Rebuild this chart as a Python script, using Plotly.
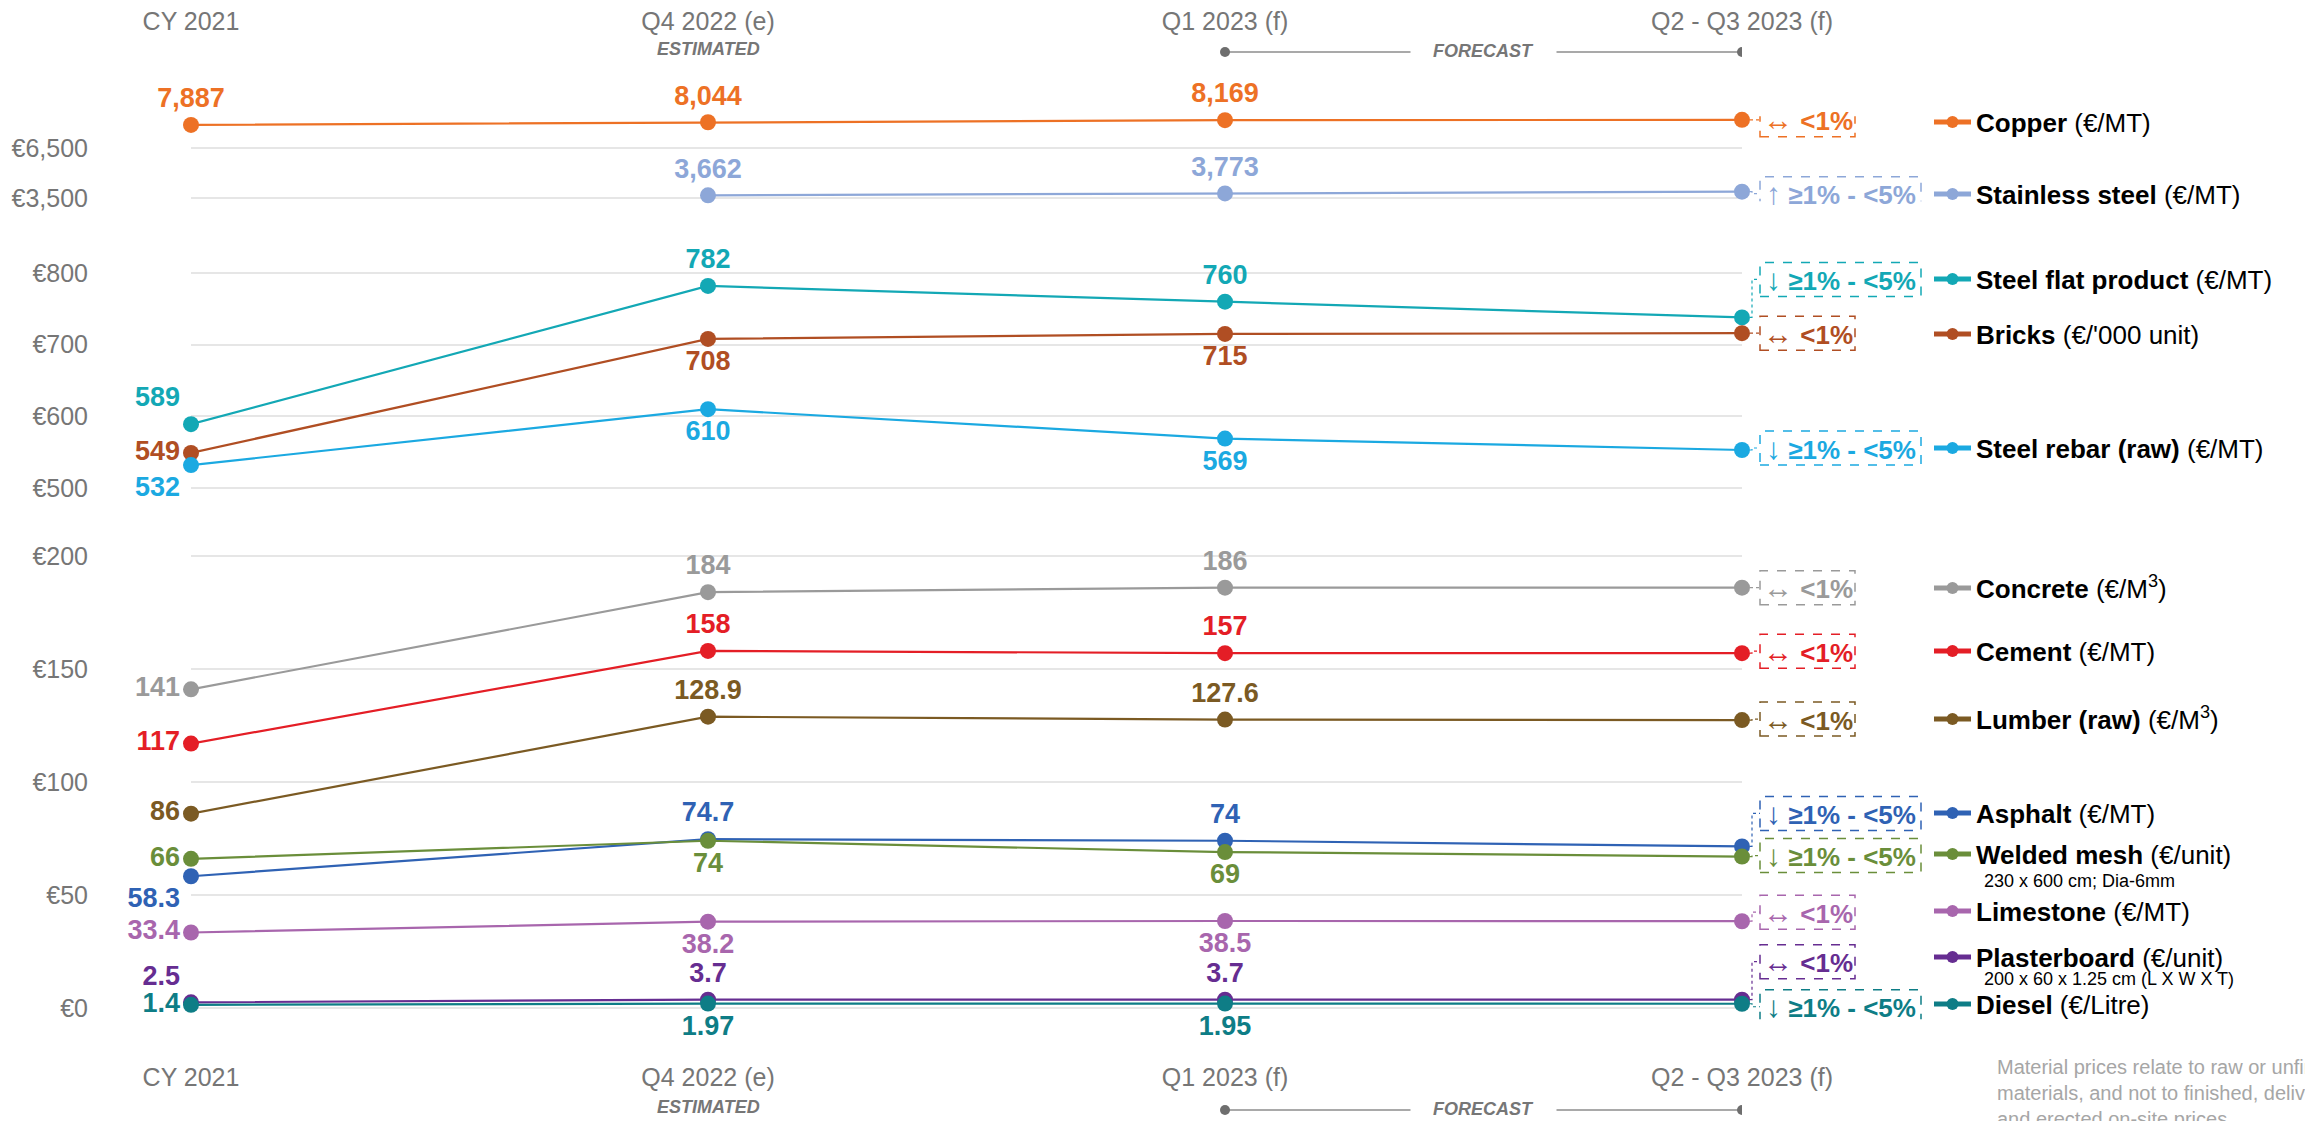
import plotly.graph_objects as go

# ---------------- data ----------------
categories = ["CY 2021", "Q4 2022 (e)", "Q1 2023 (f)", "Q2 - Q3 2023 (f)"]

copper = [7887, 8044, 8169, 8190]
stainless_steel = [None, 3662, 3773, 3880]
steel_flat = [589, 782, 760, 738]
bricks = [549, 708, 715, 716]
steel_rebar = [532, 610, 569, 553]
concrete = [141, 184, 186, 186]
cement = [117, 158, 157, 157]
lumber = [86, 128.9, 127.6, 127.4]
asphalt = [58.3, 74.7, 74, 71.5]
welded_mesh = [66, 74, 69, 67]
limestone = [33.4, 38.2, 38.5, 38.4]
plasterboard = [2.5, 3.7, 3.7, 3.7]
diesel = [1.4, 1.97, 1.95, 1.88]

material_names = ["Copper", "Stainless steel", "Steel flat product", "Bricks", "Steel rebar (raw)",
                  "Concrete", "Cement", "Lumber (raw)", "Asphalt", "Welded mesh", "Limestone",
                  "Plasterboard", "Diesel"]
material_units = ["(€/MT)", "(€/MT)", "(€/MT)", "(€/'000 unit)", "(€/MT)", "(€/M<sup>3</sup>)",
                  "(€/MT)", "(€/M<sup>3</sup>)", "(€/MT)", "(€/unit)", "(€/MT)", "(€/unit)", "(€/Litre)"]
material_notes = ["", "", "", "", "", "", "", "", "", "230 x 600 cm; Dia-6mm", "",
                  "200 x 60 x 1.25 cm (L X W X T)", ""]
trends = ["↔ <1%", "↑ ≥1% - <5%", "↓ ≥1% - <5%", "↔ <1%", "↓ ≥1% - <5%", "↔ <1%", "↔ <1%",
          "↔ <1%", "↓ ≥1% - <5%", "↓ ≥1% - <5%", "↔ <1%", "↔ <1%", "↓ ≥1% - <5%"]

y_ticks_bottom = [0, 50, 100, 150, 200]
y_ticks_middle = [500, 600, 700, 800]
y_ticks_top = [3500, 6500]

footnote = ("Material prices relate to raw or unfinished<br>materials, and not to finished, delivered"
            "<br>and erected on-site prices")

# ---------------- geometry / style ----------------
W, H = 2305, 1121
FONT = "Liberation Sans, Arial, sans-serif"
GREY = "#767676"


def fx(p):
    return p / W


def fy(p):
    return 1 - p / H


X_LEFT, X_RIGHT = 191, 1742


def domain_for(v_a, p_a, v_b, p_b, lo, hi):
    s = (p_a - p_b) / (v_b - v_a)
    p_lo = p_a + (v_a - lo) * s
    p_hi = p_a - (hi - v_a) * s
    return [fy(p_lo), fy(p_hi)]


dom_bottom = domain_for(0, 1008, 200, 556, -5, 205)
dom_middle = domain_for(500, 488, 800, 273, 480, 820)
dom_top = domain_for(3500, 198, 6500, 148, 3300, 8400)

TC, BC, ML, TL, BL = "top center", "bottom center", "middle left", "top left", "bottom left"

styles = [
    # values, color, yaxis, xaxis, text positions, box dy(px), legend y(px), note y(px)
    (copper, "#ED7125", "y3", "x2", [TC, TC, TC, TC], 0, 122, None),
    (stainless_steel, "#8DA7D8", "y3", "x2", [TC, TC, TC, TC], -2, 194, None),
    (steel_flat, "#13A8B5", "y2", "x", [TL, TC, TC, TC], 38, 279, None),
    (bricks, "#B04E23", "y2", "x", [ML, BC, BC, BC], 0, 334, None),
    (steel_rebar, "#1BA9E1", "y2", "x", [BL, BC, BC, BC], 2, 448, None),
    (concrete, "#9A9A9A", "y", "x", [ML, TC, TC, TC], 0, 588, None),
    (cement, "#E41E26", "y", "x", [ML, TC, TC, TC], 2, 651, None),
    (lumber, "#7B5A23", "y", "x", [ML, TC, TC, TC], 1, 719, None),
    (asphalt, "#2F62B4", "y", "x", [BL, TC, TC, TC], 33, 813, None),
    (welded_mesh, "#6A8E3A", "y", "x", [ML, BC, BC, BC], 1, 854, 881),
    (limestone, "#A866AD", "y", "x", [ML, BC, BC, BC], 9, 911, None),
    (plasterboard, "#662D91", "y", "x", [TL, TC, TC, TC], 38, 957, 979),
    (diesel, "#0E7D86", "y", "x", [ML, BC, BC, BC], -3, 1004, None),
]


def fmt(v):
    if v is None:
        return ""
    if float(v).is_integer():
        return f"{int(v):,}"
    return f"{v:g}"


fig = go.Figure()
shapes = []
annotations = []
layout_legends = {}

LEG_X = 1929
for i, (vals, color, yax, xax, tpos, dy, ly, note_y) in enumerate(styles):
    name = f"<b>{material_names[i]}</b> {material_units[i]}"
    lg = "legend" if i == 0 else f"legend{i + 1}"
    labels = [fmt(v) for v in vals[:-1]] + [""]
    fig.add_trace(go.Scatter(
        x=categories, y=vals, xaxis=xax, yaxis=yax,
        mode="lines+markers+text", name=name, legend=lg, showlegend=True,
        line=dict(color=color, width=2.2),
        marker=dict(color=color, size=16),
        text=labels, textposition=tpos,
        textfont=dict(color=color, size=27, family=FONT, weight="bold"),
        cliponaxis=False, hoverinfo="skip",
    ))
    layout_legends[lg] = dict(
        x=fx(LEG_X), y=fy(ly), xref="container", yref="container",
        xanchor="left", yanchor="middle", itemwidth=37,
        bgcolor="rgba(0,0,0,0)", font=dict(size=26, color="#000000", family=FONT),
        itemsizing="constant", tracegroupgap=0,
    )
    if note_y is not None:
        annotations.append(dict(
            x=fx(1982), y=fy(note_y), xref="paper", yref="paper", xanchor="left",
            yanchor="middle", showarrow=False, text=material_notes[i],
            font=dict(size=18, color="#000000", family=FONT)))

    # trend box next to the last point
    last = vals[-1]
    arrow, pct = trends[i].split(" ", 1)
    wide = "≥" in pct
    bw = 161 if wide else 95
    x0 = 18
    shapes.append(dict(
        type="rect", xref="paper", yref=yax, xsizemode="pixel", ysizemode="pixel",
        xanchor=fx(X_RIGHT), yanchor=last, x0=x0, x1=x0 + bw, y0=dy - 17, y1=dy + 17,
        line=dict(color=color, width=1.5, dash="dash"), fillcolor="rgba(0,0,0,0)", layer="above",
    ))
    shapes.append(dict(
        type="path", xref="paper", yref=yax, xsizemode="pixel", ysizemode="pixel",
        xanchor=fx(X_RIGHT), yanchor=last,
        path=f"M 8,0 L 10,0 L 10,{dy} L {x0},{dy}",
        line=dict(color=color, width=1.2, dash="dot"), layer="above",
    ))
    annotations.append(dict(
        x=1, xref="x domain", y=last, yref=yax, xanchor="center", yanchor="middle",
        xshift=x0 + bw / 2, yshift=dy, showarrow=False,
        text=f"<span style='font-size:30px'>{arrow}</span> <b>{pct}</b>",
        font=dict(size=26, color=color, family=FONT),
    ))

# Header / footer markers
for yp in (49, 1107):
    annotations.append(dict(x=categories[1], xref="x", y=fy(yp), yref="paper", showarrow=False,
                            xanchor="center", yanchor="middle",
                            text="<b><i>ESTIMATED</i></b>", font=dict(size=18, color=GREY, family=FONT)))
    annotations.append(dict(x=2.5, xref="x", y=fy(yp + 2), yref="paper", showarrow=False,
                            xanchor="center", yanchor="middle",
                            text="<b><i>FORECAST</i></b>", bgcolor="#FFFFFF", borderpad=22,
                            font=dict(size=18, color=GREY, family=FONT)))
    shapes.append(dict(type="line", xref="x", yref="paper", x0=2, x1=3, y0=fy(yp + 3), y1=fy(yp + 3),
                       line=dict(color="#8C8C8C", width=1.5), layer="below"))
    for xa in (2, 3):
        shapes.append(dict(type="circle", xref="x", yref="paper", xsizemode="pixel", ysizemode="pixel",
                           xanchor=xa, yanchor=fy(yp + 3), x0=-5, x1=5, y0=-5, y1=5,
                           fillcolor="#6E6E6E", line=dict(width=0), layer="above"))

annotations.append(dict(x=fx(1995), y=fy(1054), xref="paper", yref="paper", xanchor="left",
                        yanchor="top", align="left", showarrow=False, text=footnote,
                        font=dict(size=20, color="#A6A6A6", family=FONT)))


def yaxis_for(domain, rng, ticks):
    return dict(
        domain=domain, range=rng, tickmode="array", tickvals=ticks,
        ticktext=[f"€{t:,}" for t in ticks],
        showgrid=True, gridcolor="#E6E6E6", gridwidth=2, zeroline=False, showline=False,
        ticks="", tickfont=dict(size=25, color=GREY, family=FONT),
        ticklabelstandoff=102, anchor="x", fixedrange=True, automargin=False,
    )


xaxis_common = dict(
    domain=[fx(X_LEFT), fx(X_RIGHT)], type="category", categoryorder="array",
    categoryarray=categories, range=[0, 3], showgrid=False, zeroline=False, showline=False,
    ticks="", tickfont=dict(size=25, color=GREY, family=FONT), automargin=False, fixedrange=True,
)

fig.update_layout(
    width=W, height=H, margin=dict(l=0, r=0, t=0, b=0, autoexpand=False),
    paper_bgcolor="#FFFFFF", plot_bgcolor="rgba(0,0,0,0)",
    font=dict(family=FONT), showlegend=True,
    xaxis=dict(anchor="y", side="bottom", ticklabelstandoff=41, **xaxis_common),
    xaxis2=dict(matches="x", anchor="y3", side="top", ticklabelstandoff=80, **xaxis_common),
    yaxis=yaxis_for(dom_bottom, [-5, 205], y_ticks_bottom),
    yaxis2=yaxis_for(dom_middle, [480, 820], y_ticks_middle),
    yaxis3=yaxis_for(dom_top, [3300, 8400], y_ticks_top),
    shapes=shapes, annotations=annotations, hovermode=False,
    **layout_legends,
)

fig.write_html("out.html", config={"displayModeBar": False},
               post_script="document.body.style.margin='0';document.body.style.overflow='hidden';")
